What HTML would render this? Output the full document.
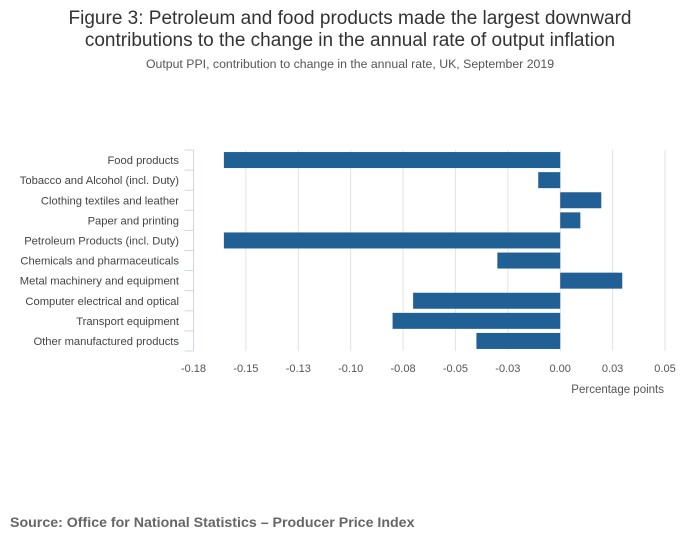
<!DOCTYPE html>
<html><head><meta charset="utf-8"><style>
body{margin:0;background:#fff;width:700px;height:549px;overflow:hidden;font-family:"Liberation Sans",sans-serif}
</style></head><body>
<svg width="700" height="549">
<text x="350" y="24" text-anchor="middle" font-size="19" fill="#333">Figure 3: Petroleum and food products made the largest downward</text>
<text x="350" y="46" text-anchor="middle" font-size="19" fill="#333">contributions to the change in the annual rate of output inflation</text>
<text x="350" y="68" text-anchor="middle" font-size="12.3" fill="#555">Output PPI, contribution to change in the annual rate, UK, September 2019</text>
<g id="plot"></g>
<text x="664" y="393" text-anchor="end" font-size="11.5" fill="#555">Percentage points</text>
<text x="10" y="527" font-size="14.2" font-weight="bold" fill="#666">Source: Office for National Statistics – Producer Price Index</text>
</svg>
<script>
const categories=["Food products","Tobacco and Alcohol (incl. Duty)","Clothing textiles and leather","Paper and printing","Petroleum Products (incl. Duty)","Chemicals and pharmaceuticals","Metal machinery and equipment","Computer electrical and optical","Transport equipment","Other manufactured products"];
const values=[-0.1605,-0.0105,0.0196,0.0096,-0.1605,-0.030,0.0296,-0.0702,-0.080,-0.040];
const ticks=[-0.175,-0.15,-0.125,-0.1,-0.075,-0.05,-0.025,0,0.025,0.05];
const tickLabels=["-0.18","-0.15","-0.13","-0.10","-0.08","-0.05","-0.03","0.00","0.03","0.05"];
(function(){
const NS="http://www.w3.org/2000/svg",g=document.getElementById('plot');
const x0=193.5,x1=665,pTop=150,pBot=351,xmin=-0.175,xmax=0.05;
const xs=v=>x0+(v-xmin)/(xmax-xmin)*(x1-x0);
const band=(pBot-pTop)/categories.length;
function mk(t,a){const e=document.createElementNS(NS,t);for(const k in a)e.setAttribute(k,a[k]);g.appendChild(e);return e;}
ticks.forEach((t,i)=>{
 if(i>0){const l=mk('line',{x1:xs(t),x2:xs(t),y1:pTop,y2:pBot,stroke:'#e2e2e2'});
 
 }
 const tx=mk('text',{x:xs(t),y:372,'text-anchor':'middle','font-size':'11',fill:'#555'});
 tx.textContent=tickLabels[i];
 
 
});
const ax=mk('line',{x1:x0,x2:x0,y1:pTop,y2:pBot,stroke:'#cdd6e6'});


for(let i=0;i<=categories.length;i++){const y=pTop+i*band;
 const tk=mk('line',{x1:x0-9,x2:x0,y1:y,y2:y,stroke:'#cdd6e6'});
 
 }
categories.forEach((c,i)=>{
 const yc=pTop+(i+0.5)*band,v=values[i];
 const r=mk('rect',{x:Math.min(xs(0),xs(v)),y:yc-8,width:Math.abs(xs(v)-xs(0)),height:16,fill:'#206095'});
 
 
 const t=mk('text',{x:179,y:yc+4,'text-anchor':'end','font-size':'11.2',fill:'#444'});
 t.textContent=c;
 
 
});
})();
</script>
</body></html>
